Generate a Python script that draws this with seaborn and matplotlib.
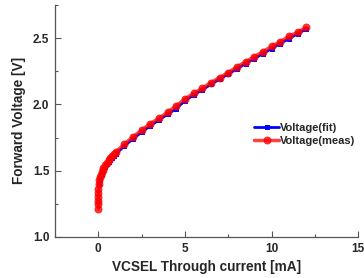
import seaborn as sns
import matplotlib.pyplot as plt
from matplotlib.ticker import MultipleLocator

# measured forward voltage
meas_i = [0, 0, 0, 0, 0, 0.01, 0.03, 0.06, 0.1, 0.15, 0.2, 0.25, 0.3, 0.4, 0.5,
          0.6, 0.7, 0.8, 0.9, 1.0, 1.5, 2.0, 2.5, 3.0, 3.5, 4.0, 4.5, 5.0, 5.5,
          6.0, 6.5, 7.0, 7.5, 8.0, 8.5, 9.0, 9.5, 10.0, 10.5, 11.0, 11.5, 12.0]
meas_v = [1.21, 1.25, 1.27, 1.30, 1.33, 1.36, 1.40, 1.43, 1.45, 1.47, 1.49, 1.505,
          1.52, 1.54, 1.56, 1.58, 1.595, 1.61, 1.625, 1.64, 1.70, 1.755, 1.805,
          1.855, 1.895, 1.94, 1.99, 2.04, 2.083, 2.121, 2.164, 2.202, 2.24, 2.283,
          2.32, 2.36, 2.396, 2.437, 2.472, 2.513, 2.543, 2.58]

# fitted curve
fit_i = [0.05, 0.1, 0.2, 0.3, 0.4, 0.5, 0.6, 0.7, 0.8, 0.9, 1.0, 1.5, 2.0, 2.5,
         3.0, 3.5, 4.0, 4.5, 5.0, 5.5, 6.0, 6.5, 7.0, 7.5, 8.0, 8.5, 9.0, 9.5,
         10.0, 10.5, 11.0, 11.5, 12.0]
fit_v = [1.40, 1.43, 1.475, 1.505, 1.528, 1.548, 1.566, 1.582, 1.597, 1.611, 1.624,
         1.685, 1.74, 1.79, 1.838, 1.882, 1.925, 1.968, 2.027, 2.07, 2.11, 2.15,
         2.19, 2.228, 2.268, 2.307, 2.345, 2.382, 2.42, 2.458, 2.495, 2.532, 2.568]

sns.set_style("ticks")
plt.rcParams['font.family'] = ['Liberation Sans', 'DejaVu Sans']
plt.rcParams['font.weight'] = 'bold'

fig = plt.figure(figsize=(3.64, 2.78), dpi=100)
ax = fig.add_axes([0.151, 0.1475, 0.833, 0.835])

sns.lineplot(x=fit_i, y=fit_v, ax=ax, color='#0000ff', lw=2, marker='s', ms=3,
             mec='#0000ff', estimator=None, sort=False, label='Voltage(fit)')
sns.lineplot(x=meas_i, y=meas_v, ax=ax, color='#ff0000', lw=2.5, alpha=0.75,
             marker='o', ms=5, mec='#ff0000', estimator=None, sort=False,
             label='Voltage(meas)')

ax.set_xlim(-2.5, 15)
ax.set_ylim(1.0, 2.75)
ax.xaxis.set_major_locator(MultipleLocator(5))
ax.xaxis.set_minor_locator(MultipleLocator(2.5))
ax.yaxis.set_major_locator(MultipleLocator(0.5))
ax.yaxis.set_minor_locator(MultipleLocator(0.25))
ax.set_yticks([1.0, 1.5, 2.0, 2.5])
ax.set_yticklabels(['1.0', '1.5', '2.0', '2.5'])
ax.tick_params(which='major', direction='in', length=4, width=0.8, labelsize=8.5,
               color='#555555', pad=4)
ax.tick_params(which='minor', direction='in', length=2.5, width=0.8, color='#555555')
for s in ['top', 'right']:
    ax.spines[s].set_visible(False)
for s in ['left', 'bottom']:
    ax.spines[s].set_color('#555555')
    ax.spines[s].set_linewidth(0.9)

ax.set_xlabel('VCSEL Through current [mA]', fontsize=9.8, fontweight='bold', labelpad=4)
ax.set_ylabel('Forward Voltage [V]', fontsize=9.8, fontweight='bold', labelpad=5)

leg = ax.legend(loc='upper left', bbox_to_anchor=(0.643, 0.51), frameon=False,
                fontsize=8, handlelength=2.2, handletextpad=0.1,
                labelspacing=0.25, borderaxespad=0)

plt.savefig('out.png', dpi=100)
